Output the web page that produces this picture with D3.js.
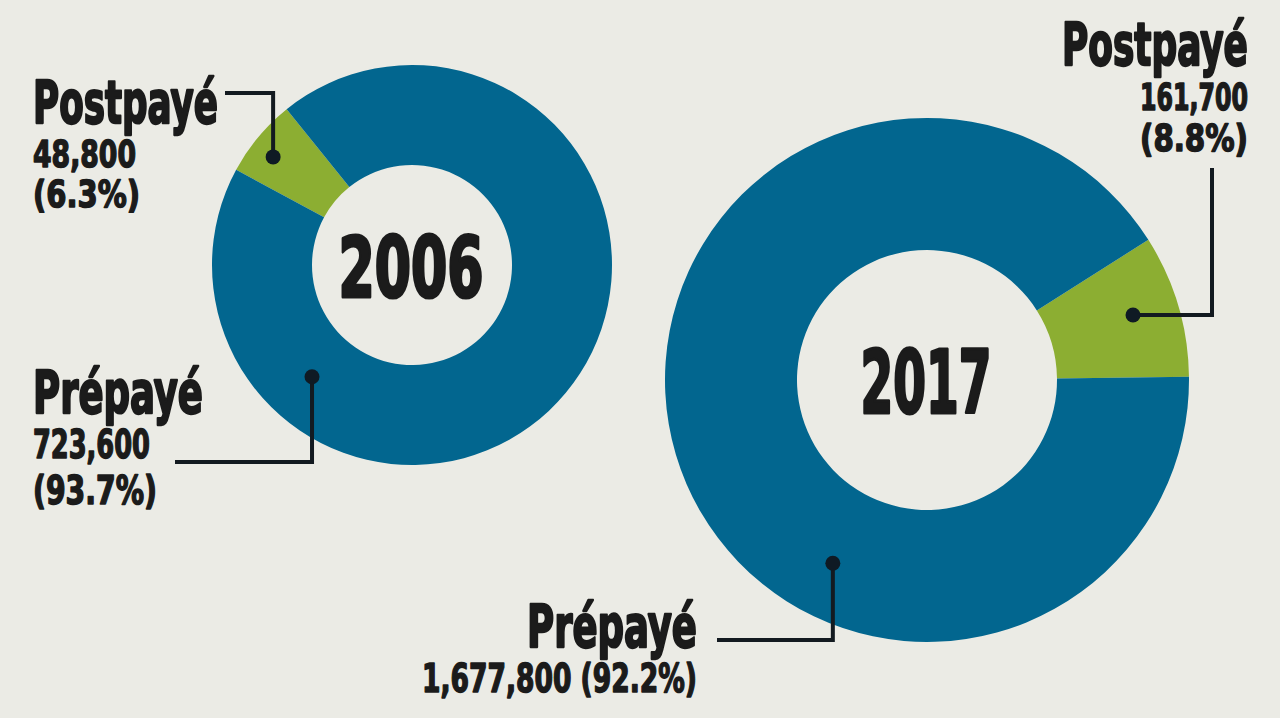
<!DOCTYPE html>
<html>
<head>
<meta charset="utf-8">
<script src="https://cdn.jsdelivr.net/npm/d3@7"></script>
<style>
  html, body { margin: 0; padding: 0; background: #ebebe5; }
  svg { display: block; }
  text { font-family: "Liberation Sans Narrow", "Arial Narrow", "DejaVu Sans Condensed", sans-serif; font-weight: bold; fill: #1b1b1b; }
</style>
</head>
<body>
<svg id="chart" width="1280" height="718"></svg>
<script>
// ---- data ----
const years = ["2006", "2017"];
const categories = ["Postpayé", "Prépayé"];
const postpaidValues = [48800, 161700];
const prepaidValues = [723600, 1677800];
const postpaidPct = ["6.3%", "8.8%"];
const prepaidPct = ["93.7%", "92.2%"];
const colors = ["#8cae32", "#02668f"];

// ---- layout ----
const W = 1280, H = 718;
const svg = d3.select("#chart");
svg.append("rect").attr("width", W).attr("height", H).attr("fill", "#ebebe5");

const donuts = [
  { cx: 412, cy: 265, outer: 200, inner: 100, startDeg: -61.55,
    yearY: 297, yearSize: 84, yearLen: 145,
    dotPost: { deg: -52.1, r: 176 }, dotPre: { deg: 221.8, r: 150 } },
  { cx: 927, cy: 380, outer: 262, inner: 130, startDeg: 57.65,
    yearY: 413, yearSize: 87, yearLen: 131,
    dotPost: { deg: 72.5, r: 216 }, dotPre: { deg: 207.2, r: 206 } }
];

const fmt = d3.format(",");
const rad = d => d * Math.PI / 180;

function polar(c, deg, r) {
  return [c.cx + r * Math.sin(rad(deg)), c.cy - r * Math.cos(rad(deg))];
}

// draws text whose left edge is at x (or right edge, if anchorEnd) with a given width
function label(x, y, str, size, len, anchorEnd, sw) {
  const t = svg.append("text")
    .attr("x", 0).attr("y", 0)
    .attr("font-size", size)
    .attr("stroke", "#1b1b1b")
    .attr("stroke-width", sw || (size > 50 ? 2.3 : 1.5))
    .attr("stroke-linejoin", "round")
    .text(str);
  const w = t.node().getComputedTextLength();
  const sx = len / w;
  const left = anchorEnd ? x - len : x;
  t.attr("transform", `translate(${left},${y}) scale(${sx},1)`);
  return t;
}

function leader(pts) {
  svg.append("path")
    .attr("d", d3.line()(pts))
    .attr("fill", "none")
    .attr("stroke", "#131a20")
    .attr("stroke-width", 4)
    .attr("stroke-linejoin", "miter");
  svg.append("circle")
    .attr("cx", pts[0][0]).attr("cy", pts[0][1]).attr("r", 7.5)
    .attr("fill", "#0f1a24");
}

years.forEach((yr, i) => {
  const c = donuts[i];
  const data = [postpaidValues[i], prepaidValues[i]];
  const pie = d3.pie().sort(null)
    .startAngle(rad(c.startDeg)).endAngle(rad(c.startDeg) + 2 * Math.PI);
  const arc = d3.arc().innerRadius(c.inner).outerRadius(c.outer);
  const g = svg.append("g").attr("transform", `translate(${c.cx},${c.cy})`);
  g.selectAll("path").data(pie(data)).join("path")
    .attr("d", arc)
    .attr("fill", (d, j) => colors[j]);

  label(c.cx - c.yearLen / 2 - 1, c.yearY, yr, c.yearSize, c.yearLen, false, 3.2);
});

// ---- 2006 labels ----
{
  const c = donuts[0];
  const pPost = polar(c, c.dotPost.deg, c.dotPost.r);
  leader([pPost, [pPost[0], 93], [225, 93]]);
  label(33, 123, categories[0], 59, 185);
  label(33, 167, fmt(postpaidValues[0]), 38, 103);
  label(33, 207, `(${postpaidPct[0]})`, 38, 107);

  const pPre = polar(c, c.dotPre.deg, c.dotPre.r);
  leader([pPre, [pPre[0], 462], [175, 462]]);
  label(33, 413, categories[1], 59, 170);
  label(33, 458, fmt(prepaidValues[0]), 39, 117);
  label(33, 504, `(${prepaidPct[0]})`, 39, 124);
}

// ---- 2017 labels ----
{
  const c = donuts[1];
  const pPost = polar(c, c.dotPost.deg, c.dotPost.r);
  leader([pPost, [1212, pPost[1]], [1212, 168]]);
  label(1248, 65, categories[0], 59, 186, true);
  label(1248, 110, fmt(postpaidValues[1]), 37, 108, true);
  label(1248, 151, `(${postpaidPct[1]})`, 37, 108, true);

  const pPre = polar(c, c.dotPre.deg, c.dotPre.r);
  leader([pPre, [pPre[0], 640], [717, 640]]);
  label(697, 647, categories[1], 59, 170, true);
  label(697, 692, `${fmt(prepaidValues[1])} (${prepaidPct[1]})`, 39, 275, true);
}
</script>
</body>
</html>
